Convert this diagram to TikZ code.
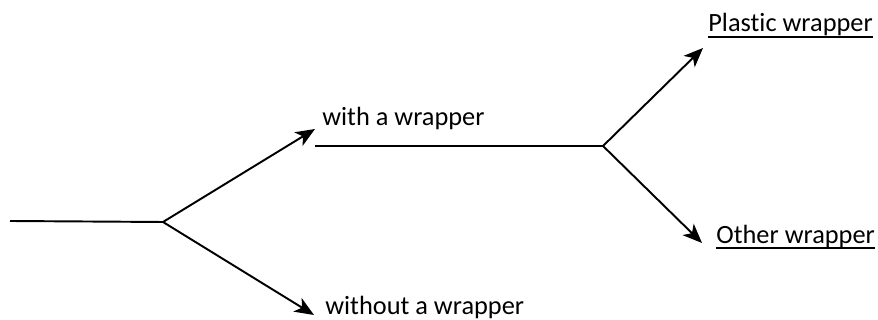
\documentclass[tikz,border=0pt]{standalone}
\usepackage{fontspec}
\setmainfont{Carlito}[Ligatures=NoCommon]
\usepackage{tikz}
\usetikzlibrary{arrows.meta}

\begin{document}
\begin{tikzpicture}[x=0.02cm,y=0.02cm,
  branch/.style={line width=1.1pt,-{Stealth[length=11pt,width=9pt,inset=3pt]}},
  stem/.style={line width=1.1pt},
  choice/.style={anchor=base west,inner sep=0pt,font=\fontsize{15}{18}\selectfont}]
\useasboundingbox (0,0) rectangle (878,320);
\coordinate (in) at (10,99);
\coordinate (fork) at (163,98);
\coordinate (withtip) at (315,191);
\coordinate (withouttip) at (314,5);
\coordinate (wrapstart) at (315,174);
\coordinate (fork2) at (603,174);
\coordinate (plastictip) at (703,272);
\coordinate (othertip) at (702,77);
% labels
\node[choice] (with) at (322,194) {with a wrapper};
\node[choice] (without) at (325,5) {without a wrapper};
\node[choice] (plastic) at (708,288) {Plastic wrapper};
\node[choice] (other) at (716,76) {Other wrapper};
% underlines
\draw[line width=0.9pt] ([yshift=-2.7pt]plastic.base west) -- ([yshift=-2.7pt]plastic.base east);
\draw[line width=0.9pt] ([yshift=-2.3pt]other.base west) -- ([yshift=-2.3pt]other.base east);
% first split
\draw[stem] (in) -- (fork);
\draw[branch] (fork) -- (withtip);
\draw[branch] (fork) -- (withouttip);
% second split
\draw[stem] (wrapstart) -- (fork2);
\draw[branch] (fork2) -- (plastictip);
\draw[branch] (fork2) -- (othertip);
\end{tikzpicture}
\end{document}
